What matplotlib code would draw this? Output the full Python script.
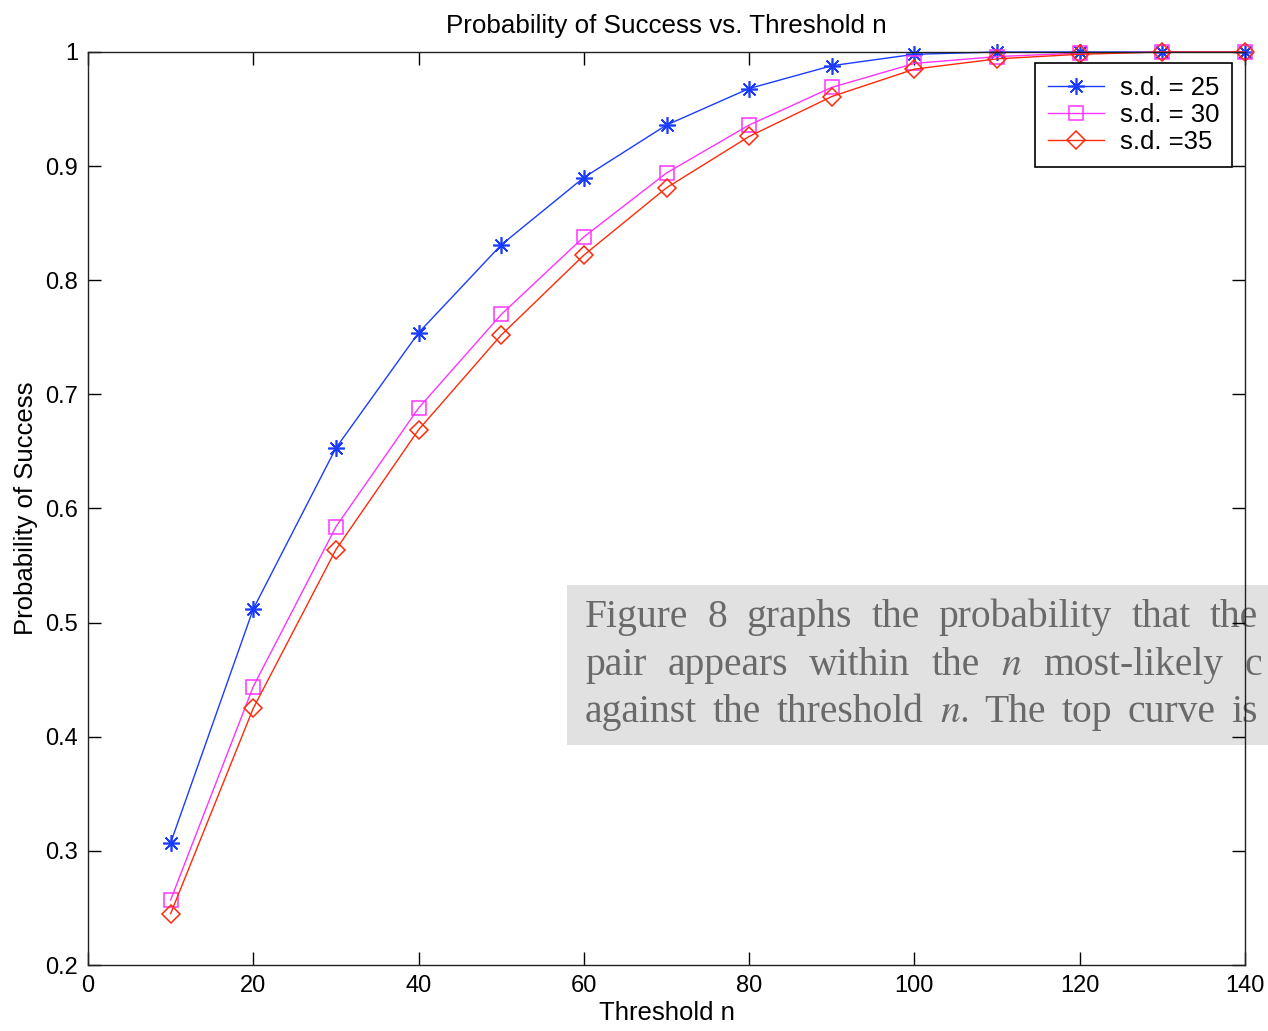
"""
Probability of success against threshold n, for three values of s.d.
"""

import matplotlib
matplotlib.use('Agg')
import matplotlib.pyplot as plt
from matplotlib.patches import Rectangle

threshold = [10, 20, 30, 40, 50, 60, 70, 80, 90, 100, 110, 120, 130, 140]
p_sd25 = [0.307, 0.512, 0.653, 0.754, 0.831, 0.890, 0.936, 0.968, 0.988, 0.998, 1.000, 1.000, 1.000, 1.000]
p_sd30 = [0.257, 0.444, 0.584, 0.688, 0.770, 0.838, 0.894, 0.936, 0.969, 0.990, 0.996, 0.999, 1.000, 1.000]
p_sd35 = [0.245, 0.425, 0.564, 0.669, 0.752, 0.822, 0.881, 0.926, 0.961, 0.985, 0.994, 0.998, 1.000, 1.000]
labels = ['s.d. = 25', 's.d. = 30', 's.d. =35']

xticks = [0, 20, 40, 60, 80, 100, 120, 140]
yticks = [0.2, 0.3, 0.4, 0.5, 0.6, 0.7, 0.8, 0.9, 1.0]

# paper text that sits over the plot in the screenshot
caption_lines = [
    ['Figure', '8', 'graphs', 'the', 'probability', 'that', 'the'],
    ['pair', 'appears', 'within', 'the', r'$\mathit{n}$', 'most-likely', 'c'],
    ['against', 'the', 'threshold', r'$\mathit{n}.$', 'The', 'top', 'curve', 'is'],
]

W, H = 1268, 1031
plt.rcParams['font.family'] = ['Liberation Sans', 'DejaVu Sans']
plt.rcParams['font.size'] = 17
plt.rcParams['mathtext.fontset'] = 'stix'

fig = plt.figure(figsize=(W/100, H/100), dpi=100)
ax = fig.add_axes([88/W, 1-965/H, (1245-88)/W, (965-52)/H])
ax.set_facecolor('none')

ax.plot(threshold, p_sd25, color='#1a3cff', lw=1.0, marker=(8, 2, 0), ms=12, mew=1.2,
        clip_on=False, label=labels[0])
ax.plot(threshold, p_sd30, color='#ff33ff', lw=1.0, marker='s', ms=9.5, mfc='none', mew=1.1,
        clip_on=False, label=labels[1])
ax.plot(threshold, p_sd35, color='#ff2a0a', lw=1.0, marker='D', ms=9.5, mfc='none', mew=1.1,
        clip_on=False, label=labels[2])

ax.set_xlim(0, 140)
ax.set_ylim(0.2, 1.0)
ax.set_xticks(xticks)
ax.set_yticks(yticks)
ax.set_yticklabels(['%g' % v for v in yticks])
ax.tick_params(direction='in', length=9.5, width=1.0, top=True, right=True, pad=7)
for s in ax.spines.values():
    s.set_linewidth(1.0)
    s.set_color('#222222')
ax.set_title('Probability of Success vs. Threshold n', fontsize=18.7, pad=14)
ax.set_xlabel('Threshold n', fontsize=18.5, labelpad=3)
ax.set_ylabel('Probability of Success', fontsize=18.5, labelpad=5)

leg = ax.legend(loc='upper right', bbox_to_anchor=((1232-88)/1157, (965-63)/913), borderaxespad=0,
                fancybox=False, framealpha=1, edgecolor='black', handlelength=2.2, fontsize=18.5,
                handletextpad=0.6, labelspacing=0.12, borderpad=0.5)
leg.get_frame().set_linewidth(1.2)

# grey caption box, under the axes spines
fig.patches.append(Rectangle((567/W, 1-745/H), (W-567)/W, (745-585)/H, transform=fig.transFigure,
                             facecolor='#e1e1e1', edgecolor='none', zorder=-2))

renderer = fig.canvas.get_renderer()
baselines = [627, 675, 722]
rights = [1258, 1262, 1258]
left = 585
for words, base, right in zip(caption_lines, baselines, rights):
    texts = [fig.text(0, 1-base/H, w, family='Liberation Serif', fontsize=28.5, color='#6a6a6a',
                      va='baseline', ha='left', zorder=-1) for w in words]
    widths = [t.get_window_extent(renderer).width for t in texts]
    gap = (right - left - sum(widths)) / (len(words) - 1)
    x = left
    for t, wd in zip(texts, widths):
        t.set_x(x/W)
        x += wd + gap

fig.savefig('out.png', dpi=100)
